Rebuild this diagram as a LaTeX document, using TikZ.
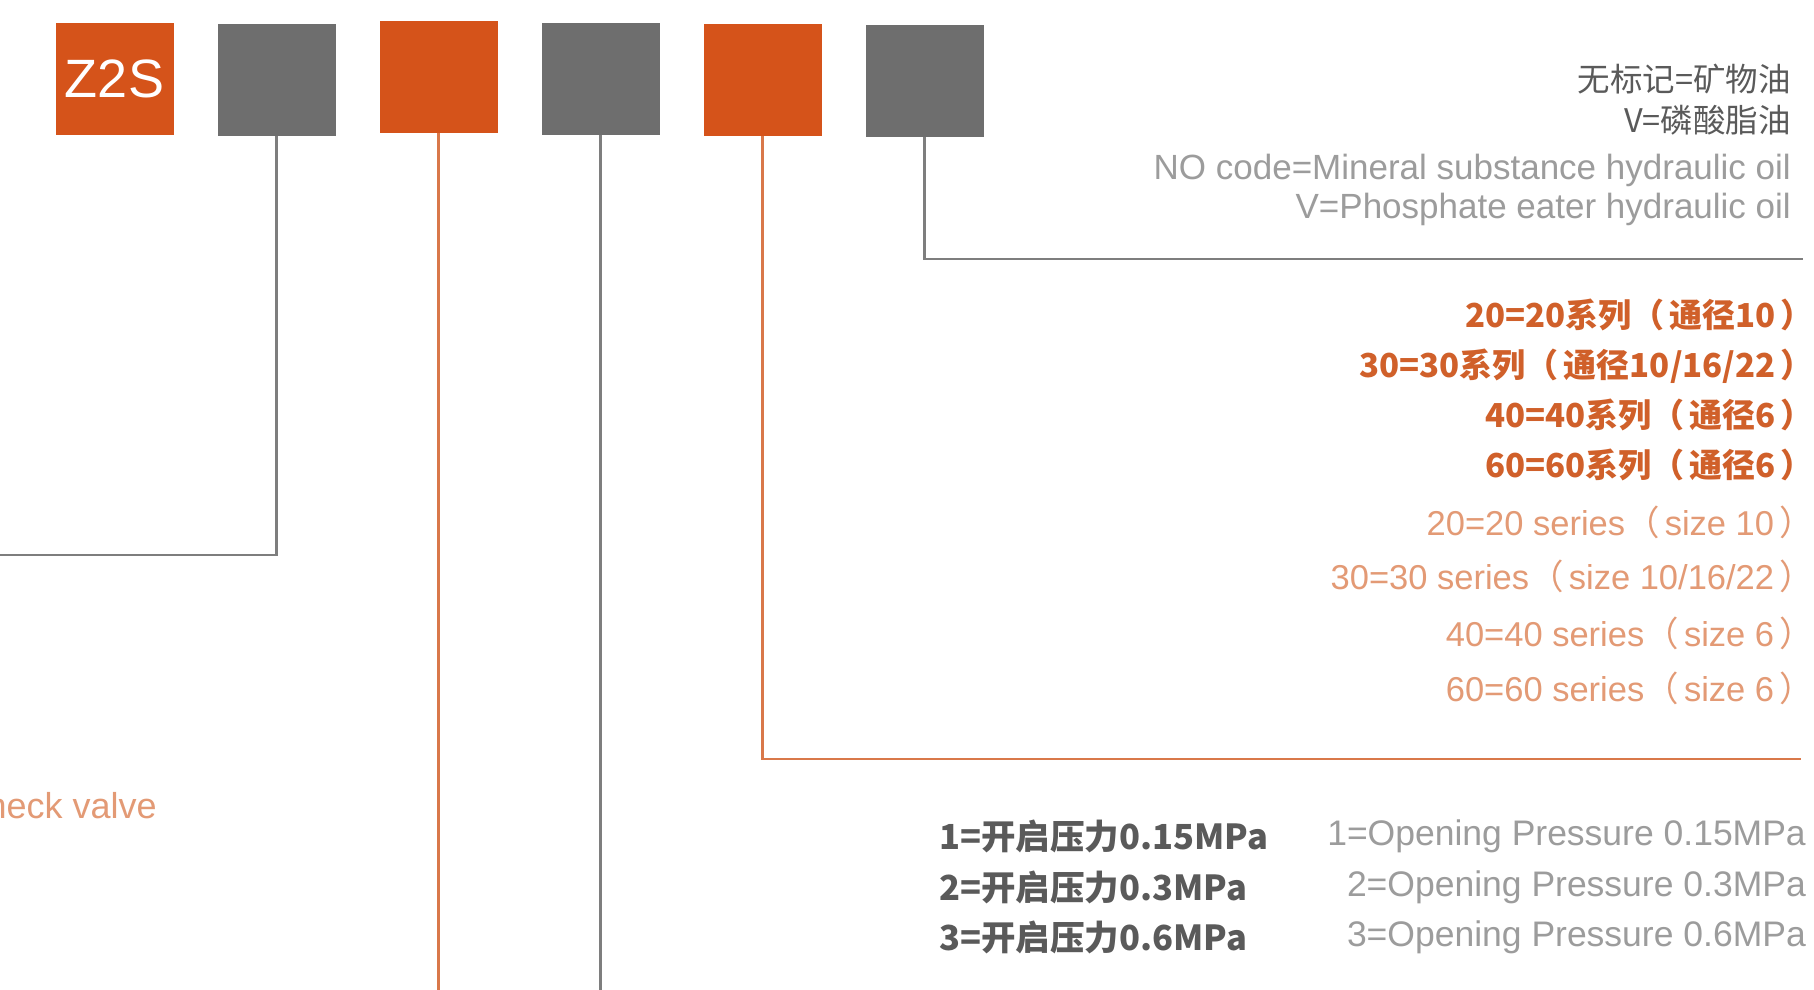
\documentclass[tikz,border=0pt]{standalone}
\usepackage{fontspec}
\setmainfont{Liberation Sans}
\newfontfamily\cjk{Noto Sans CJK SC}
\definecolor{boxor}{HTML}{D5531A}
\definecolor{boxgr}{HTML}{6E6E6E}
\definecolor{lnor}{HTML}{D9784A}
\definecolor{lngr}{HTML}{7E7E7E}
\definecolor{txor}{HTML}{D0602A}
\definecolor{txorl}{HTML}{E39A75}
\definecolor{txdk}{HTML}{5A5A5A}
\definecolor{txlt}{HTML}{9C9C9C}
\newcommand{\lp}{{\cjk （}\hspace{0.15em}}
\newcommand{\rp}{\hspace{0.15em}{\cjk ）}}
\tikzset{
  codebox/.style={minimum width=118pt, minimum height=112pt, inner sep=0pt},
  obox/.style={codebox, fill=boxor},
  gbox/.style={codebox, fill=boxgr},
  oline/.style={draw=lnor, line width=2.2pt},
  gline/.style={draw=lngr, line width=2.2pt},
  cnd/.style={font=\cjk\fontsize{32.5}{36}\selectfont, text=txdk, inner sep=0pt},
  enl/.style={font=\fontsize{35}{40}\selectfont, text=txlt, inner sep=0pt},
  cno/.style={font=\cjk\bfseries\fontsize{33}{38}\selectfont, text=txor, inner sep=0pt},
  eno/.style={font=\fontsize{34.5}{40}\selectfont, text=txorl, inner sep=0pt},
  cnb/.style={font=\cjk\bfseries\fontsize{34.5}{40}\selectfont, text=txdk, inner sep=0pt},
  enb/.style={font=\fontsize{35.5}{40}\selectfont, text=txlt, inner sep=0pt},
}
\begin{document}
\begin{tikzpicture}[x=1pt,y=-1pt]
\useasboundingbox (0,0) rectangle (1814,989);
\clip (0,0) rectangle (1814,989);
\fill[white] (0,0) rectangle (1814,989);
% code boxes
\node[obox, text=white, font=\fontsize{54}{60}\selectfont] (b1) at (114.5,79) {Z2S};
\node[gbox] (b2) at (276.5,80) {};
\node[obox] (b3) at (438.5,77) {};
\node[gbox] (b4) at (600.5,79) {};
\node[obox] (b5) at (762.5,80) {};
\node[gbox] (b6) at (924.5,81) {};
% connector ends
\coordinate (c2) at (0,555);
\coordinate (c3) at (438.5,992);
\coordinate (c4) at (600.5,992);
\coordinate (c5) at (1801,759);
\coordinate (c6) at (1803,259);
\draw[gline] (b2.south) |- (c2);
\draw[oline] (b3.south) -- (c3);
\draw[gline] (b4.south) -- (c4);
\draw[oline] (b5.south) |- (c5);
\draw[gline] (b6.south) |- (c6);
% oil type
\node[cnd, anchor=east] (t1) at (1791,79) {无标记=矿物油};
\node[cnd, anchor=east] (t2) at (1791,120) {V=磷酸脂油};
\node[enl, anchor=east] (t3) at (1791,170) {NO code=Mineral substance hydraulic oil};
\node[enl, anchor=east] (t4) at (1791,209) {V=Phosphate eater hydraulic oil};
% series
\node[cno, anchor=east] (s1) at (1814,315) {20=20系列\lp 通径10\rp};
\node[cno, anchor=east] (s2) at (1814,366) {30=30系列\lp 通径10/16/22\rp};
\node[cno, anchor=east] (s3) at (1814,415) {40=40系列\lp 通径6\rp};
\node[cno, anchor=east] (s4) at (1814,465) {60=60系列\lp 通径6\rp};
\node[eno, anchor=east] (e1) at (1814,522) {20=20 series\lp size 10\rp};
\node[eno, anchor=east] (e2) at (1814,576) {30=30 series\lp size 10/16/22\rp};
\node[eno, anchor=east] (e3) at (1814,633) {40=40 series\lp size 6\rp};
\node[eno, anchor=east] (e4) at (1814,688) {60=60 series\lp size 6\rp};
% type
\node[eno, anchor=east, font=\fontsize{36}{40}\selectfont] (cv) at (157,806) {check valve};
% opening pressure
\node[cnb, anchor=west] (p1) at (939,836) {1=开启压力0.15MPa};
\node[cnb, anchor=west] (p2) at (939,887) {2=开启压力0.3MPa};
\node[cnb, anchor=west] (p3) at (939,937) {3=开启压力0.6MPa};
\node[enb, anchor=east] (q1) at (1806,836) {1=Opening Pressure 0.15MPa};
\node[enb, anchor=east] (q2) at (1806,887) {2=Opening Pressure 0.3MPa};
\node[enb, anchor=east] (q3) at (1806,937) {3=Opening Pressure 0.6MPa};
\end{tikzpicture}
\end{document}
